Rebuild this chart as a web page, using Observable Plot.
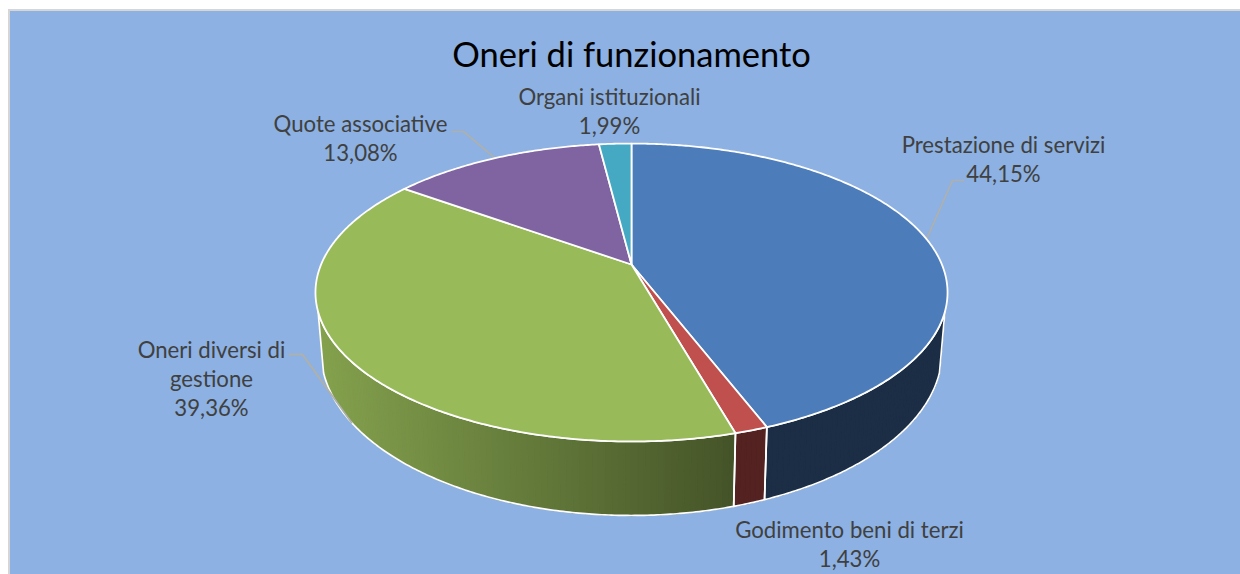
<!DOCTYPE html>
<html>
<head>
<meta charset="utf-8">
<script src="https://cdn.jsdelivr.net/npm/d3@7"></script>
<script src="https://cdn.jsdelivr.net/npm/@observablehq/plot@0.6"></script>
<style>
html,body{margin:0;padding:0;background:#fff;overflow:hidden;width:1240px;height:574px}
#panel{position:absolute;left:8px;top:9px;right:0;bottom:0;background:#8cb1e2;border-left:2px solid #d6d6d6;border-top:2px solid #d6d6d6}
#chart{position:absolute;left:0;top:0}
#chart svg{display:block;background:transparent}
</style>
</head>
<body>
<div id="panel"></div>
<div id="chart"></div>
<script>
// Data
const categories = ["Prestazione di servizi", "Godimento beni di terzi", "Oneri diversi di gestione", "Quote associative", "Organi istituzionali"];
const shares = [44.15, 1.43, 39.36, 13.08, 1.99];
const sliceColors = ["#4c7dba", "#c0504d", "#98ba59", "#8064a2", "#46a9c4"];
const chartTitle = "Oneri di funzionamento";

// Layout of the tilted disc (perspective view)
const W = 1240, H = 574;
const cx = 631, persp = 0.188;
const topDisc = {cy: 264, R: 310.4, a: 143.7};
const baseDisc = {cy: 320.4, R: 305, a: 158};
const visibleFrom = 108, visibleTo = 252;
const project = (deg, d) => {
  const t = deg * Math.PI / 180, u = Math.sin(t), v = -Math.cos(t), k = 1 - persp * v;
  return {x: cx + d.R * u / k, y: d.cy + d.a * v / k};
};
const total = d3.sum(shares);
let acc = 0;
const slices = categories.map((name, i) => {
  const a0 = acc / total * 360; acc += shares[i]; const a1 = acc / total * 360;
  return {name, value: shares[i], color: sliceColors[i], a0, a1, mid: (a0 + a1) / 2};
});
const arc = (a0, a1, d, step = 0.5) => {
  const n = Math.max(1, Math.ceil(Math.abs(a1 - a0) / step));
  return d3.range(n + 1).map(i => project(a0 + (a1 - a0) * i / n, d));
};

// Top face polygons
const topPts = slices.flatMap(s => {
  const c = project(0, {...topDisc, R: 0, a: 0});
  return [c, ...arc(s.a0, s.a1, topDisc), c].map(p => ({...p, id: s.name, color: s.color}));
});

// Side wall
const shade = x => {
  const t = (x - 325) / (735 - 325);
  return t < 1 ? 0.86 - 0.41 * t : 0.37;
};
const wallSlices = slices.map(s => ({...s, b0: Math.max(s.a0, visibleFrom), b1: Math.min(s.a1, visibleTo)})).filter(s => s.b1 > s.b0);
const stripPts = [], outlinePts = [];
wallSlices.forEach(s => {
  const n = Math.max(1, Math.ceil((s.b1 - s.b0) / 1));
  d3.range(n).forEach(i => {
    const p0 = s.b0 + (s.b1 - s.b0) * i / n, p1 = s.b0 + (s.b1 - s.b0) * (i + 1) / n;
    const A = project(p0, topDisc), B = project(p1, topDisc), C = project(p1, baseDisc), D = project(p0, baseDisc);
    const k = s.name === "Godimento beni di terzi" ? 0.43 : shade((A.x + B.x) / 2), b = d3.rgb(s.color);
    const color = d3.rgb(b.r * k, b.g * k, b.b * k).formatHex();
    [A, B, C, D, A].forEach(p => stripPts.push({...p, id: s.name + i, color}));
  });
  const poly = [...arc(s.b0, s.b1, topDisc), ...arc(s.b1, s.b0, baseDisc)];
  [...poly, poly[0]].forEach(p => outlinePts.push({...p, id: s.name}));
});

// Labels and leader lines
const pct = v => v.toFixed(2).replace(".", ",") + "%";
const labelText = s => (s.name === "Oneri diversi di gestione" ? "Oneri diversi di\ngestione" : s.name) + "\n" + pct(s.value);
const labelPos = {
  "Prestazione di servizi": {x: 1003, y: 157.5},
  "Godimento beni di terzi": {x: 849, y: 542.5},
  "Oneri diversi di gestione": {x: 211, y: 377},
  "Quote associative": {x: 360, y: 137},
  "Organi istituzionali": {x: 609, y: 109.5}
};
const labels = slices.map(s => ({text: labelText(s), ...labelPos[s.name]}));
const elbows = {
  "Prestazione di servizi": {disc: topDisc, pts: [[963, 180], [952, 180]]},
  "Oneri diversi di gestione": {disc: baseDisc, pts: [[289, 354], [302, 354]]},
  "Quote associative": {disc: topDisc, pts: [[452, 131], [463, 131]]}
};
const leaderPts = slices.filter(s => elbows[s.name]).flatMap(s => {
  const e = elbows[s.name];
  return [...e.pts.map(([x, y]) => ({x, y})), project(s.mid, e.disc)].map(p => ({...p, id: s.name}));
});

const font = "Lato, 'Open Sans', sans-serif";
const chart = Plot.plot({
  width: W, height: H,
  marginTop: 0, marginRight: 0, marginBottom: 0, marginLeft: 0,
  x: {domain: [0, W], range: [0, W], axis: null},
  y: {domain: [0, H], range: [0, H], axis: null},
  color: {type: "identity"},
  style: {background: "transparent", fontFamily: font},
  marks: [
    Plot.line(leaderPts, {x: "x", y: "y", z: "id", stroke: "#aeb0ad", strokeWidth: 1.7}),
    Plot.line(stripPts, {x: "x", y: "y", z: "id", fill: "color", stroke: "color", strokeWidth: 1.3}),
    Plot.line(outlinePts, {x: "x", y: "y", z: "id", stroke: "#fff", strokeWidth: 1.7, strokeLinejoin: "round"}),
    Plot.line(topPts, {x: "x", y: "y", z: "id", fill: "color", stroke: "#fff", strokeWidth: 1.8, strokeLinejoin: "round"}),
    Plot.line(leaderPts.filter(d => d.id === "Oneri diversi di gestione"), {x: "x", y: "y", stroke: "#aeb0ad", strokeWidth: 1.7}),
    Plot.text(labels, {x: "x", y: "y", text: "text", fill: "#404040", fontSize: 22.2, lineHeight: 1.31, textAnchor: "middle", lineAnchor: "middle", fontFamily: font}),
    Plot.text([chartTitle], {x: () => cx, y: () => 55, text: d => d, fill: "#000", fontSize: 34.5, textAnchor: "middle", lineAnchor: "middle", fontFamily: font})
  ]
});
document.getElementById("chart").appendChild(chart);
</script>
</body>
</html>
